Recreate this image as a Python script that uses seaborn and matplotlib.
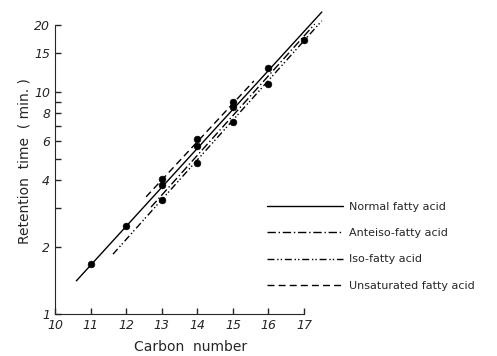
import pandas as pd
import matplotlib
matplotlib.use("Agg")
import matplotlib.pyplot as plt
import matplotlib.ticker as mticker
import seaborn as sns

# data points
carbon = [11, 12, 13, 13, 13, 14, 14, 14, 15, 15, 15, 16, 16, 17]
ret_time = [1.68, 2.49, 4.05, 3.8, 3.27, 6.14, 5.71, 4.79, 9.0, 8.56, 7.33, 12.8, 10.9, 17.1]

# fitted line endpoints (carbon number, retention time)
normal_x = [10.6, 17.5]
normal_y = [1.41, 22.9]
anteiso_x = [12.7, 17.3]
anteiso_y = [3.03, 20.2]
iso_x = [11.63, 17.5]
iso_y = [1.86, 20.9]
unsat_x = [12.56, 15.59]
unsat_y = [3.37, 11.2]

line_names = ["Normal fatty acid", "Anteiso-fatty acid", "Iso-fatty acid", "Unsaturated fatty acid"]

x_ticks = [10, 11, 12, 13, 14, 15, 16, 17]
y_ticks = [1, 2, 4, 6, 8, 10, 15, 20]
y_minor = [3, 5, 7, 9]

sns.set_style("ticks")
plt.rcParams['font.family'] = ['DejaVu Sans']

pts = pd.DataFrame({'carbon': carbon, 'time': ret_time})

fig = plt.figure(figsize=(4.97, 3.56), dpi=100)
ax = fig.add_axes([0.1107, 0.118, 0.544, 0.861])

styles = ['-', (0, (6, 2, 1, 2)), (0, (5, 2, 1, 1.5, 1, 2)), (0, (5, 3))]
lines = [(normal_x, normal_y), (anteiso_x, anteiso_y), (iso_x, iso_y), (unsat_x, unsat_y)]
for (lx, ly), name, ls in zip(lines, line_names, styles):
    sns.lineplot(x=lx, y=ly, ax=ax, color='black', linestyle=ls, linewidth=1.0, label=name)

sns.scatterplot(data=pts, x='carbon', y='time', ax=ax, color='black', s=24,
                edgecolor='black', zorder=5)

ax.set_yscale('log')
ax.set_xlim(10, 17.6)
ax.set_ylim(1, 24)
ax.yaxis.set_major_locator(mticker.FixedLocator(y_ticks))
ax.yaxis.set_major_formatter(mticker.FixedFormatter([str(v) for v in y_ticks]))
ax.yaxis.set_minor_locator(mticker.FixedLocator(y_minor))
ax.yaxis.set_minor_formatter(mticker.NullFormatter())
ax.set_xticks(x_ticks)
ax.set_xticklabels([str(v) for v in x_ticks])

sns.despine(ax=ax)
ax.spines['left'].set_bounds(1, 20)
ax.spines['bottom'].set_bounds(10, 17)
ax.tick_params(which='both', direction='in', length=4, width=1, labelsize=9)
for lab in ax.get_xticklabels() + ax.get_yticklabels():
    lab.set_fontstyle('italic')

ax.set_xlabel("Carbon  number", fontsize=10, labelpad=6)
ax.set_ylabel("Retention  time  ( min. )", fontsize=10, labelpad=2)

ax.legend(loc='upper left', bbox_to_anchor=(0.518, 0.46), bbox_transform=fig.transFigure,
          frameon=False, handlelength=6.8, handletextpad=0.5, labelspacing=1.45,
          fontsize=8)

fig.savefig("out.png", dpi=100)
